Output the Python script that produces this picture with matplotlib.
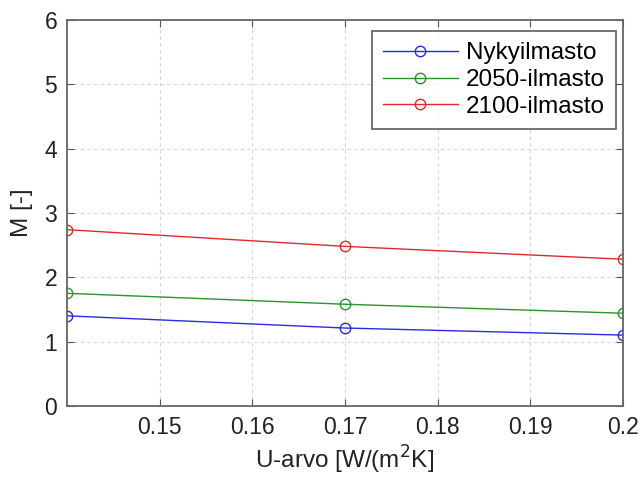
import matplotlib
matplotlib.use("Agg")
import matplotlib.pyplot as plt

u_values = [0.14, 0.17, 0.20]
nyky = [1.40, 1.21, 1.10]
v2050 = [1.75, 1.58, 1.44]
v2100 = [2.74, 2.48, 2.28]
series_labels = ["Nykyilmasto", "2050-ilmasto", "2100-ilmasto"]
x_ticks = [0.15, 0.16, 0.17, 0.18, 0.19, 0.20]
x_tick_labels = ["0.15", "0.16", "0.17", "0.18", "0.19", "0.2"]
y_ticks = [0, 1, 2, 3, 4, 5, 6]

plt.rcParams['font.family'] = ['Liberation Sans', 'DejaVu Sans']

fig = plt.figure(figsize=(6.43, 4.78), dpi=100)
ax = fig.add_axes([0.104, 0.151, 0.865, 0.807])

colors = ["#2a2ae6", "#2b932b", "#e02a2a"]
for ys, lab, c in zip([nyky, v2050, v2100], series_labels, colors):
    ax.plot(u_values, ys, '-o', color=c, mfc='none', mec=c, ms=7.5, lw=1.0, label=lab)

ax.set_xlim(0.14, 0.20)
ax.set_ylim(0, 6)
ax.set_xticks(x_ticks)
ax.set_xticklabels(x_tick_labels)
ax.set_yticks(y_ticks)
ax.tick_params(direction='in', top=True, right=True, labelsize=16.5, length=5,
               color='#555555', labelcolor='#222222', pad=7)
ax.grid(True, linestyle=(0, (3, 3)), color='#d4d4d4', lw=0.8)
for s in ax.spines.values():
    s.set_color('#666666')
    s.set_linewidth(1.3)

ax.set_xlabel("U-arvo [W/(m$^2$K]", fontsize=17.5, color='#222222', labelpad=4)
ax.set_ylabel("M [-]", fontsize=17.5, color='#222222', labelpad=8)

leg = ax.legend(loc='upper right', fontsize=17.5, handlelength=3.1, handletextpad=0.33,
                frameon=True, fancybox=False, edgecolor='#333333', borderpad=0.45,
                labelspacing=0.2, borderaxespad=0, bbox_to_anchor=(0.987, 0.971))
leg.get_frame().set_linewidth(1.2)

fig.savefig("out.png", dpi=100, facecolor='white')
